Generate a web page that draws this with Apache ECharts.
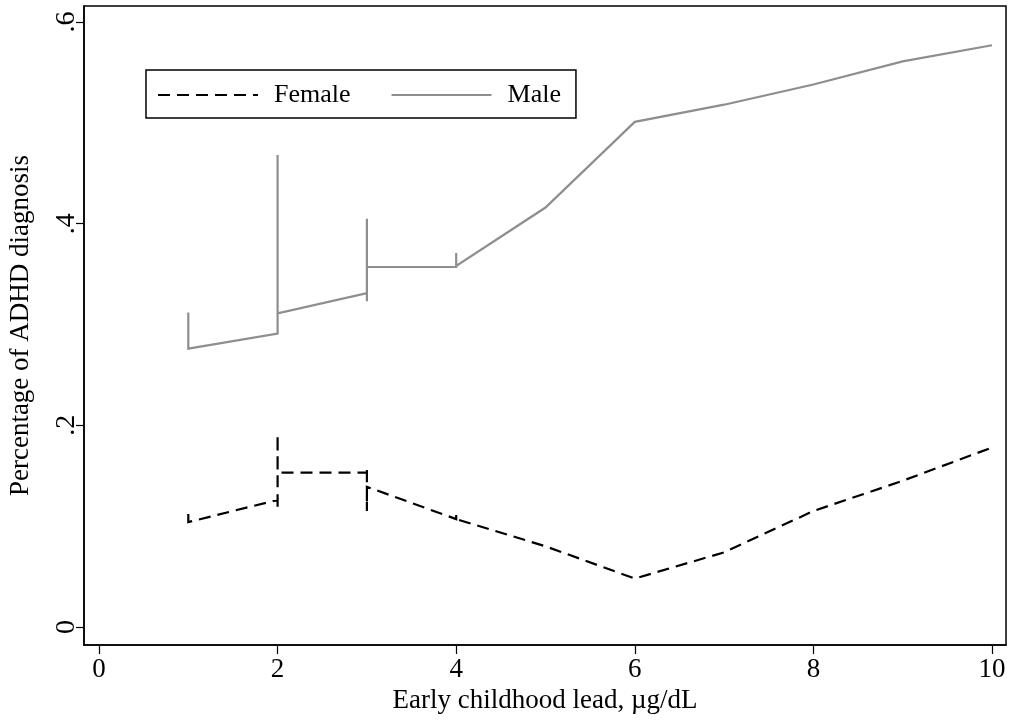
<!DOCTYPE html>
<html>
<head>
<meta charset="utf-8">
<script src="https://cdn.jsdelivr.net/npm/echarts@6/dist/echarts.min.js"></script>
<style>
  html, body { margin: 0; padding: 0; background: #fff; }
  #chart { width: 1013px; height: 721px; }
</style>
</head>
<body>
<div id="chart"></div>
<script>
// Predicted share of ADHD diagnosis by early childhood blood lead, by sex.
// Repeated lead values trace the vertical jumps at the low end of the scale.
const leadFemale = [1, 1, 2, 2, 2, 2, 3, 3, 3, 3, 4, 4, 4, 5, 6, 7, 8, 9, 10];
const pctFemale  = [0.112, 0.104, 0.126, 0.116, 0.191, 0.153, 0.153, 0.159, 0.115, 0.139,
                    0.107, 0.111, 0.107, 0.080, 0.048, 0.074, 0.115, 0.145, 0.178];

const leadMale = [1, 1, 2, 2, 2, 3, 3, 3, 3, 4, 4, 4, 5, 6, 7, 8, 9, 10];
const pctMale  = [0.312, 0.276, 0.291, 0.468, 0.311, 0.331, 0.323, 0.405, 0.357,
                  0.357, 0.371, 0.358, 0.416, 0.501, 0.518, 0.538, 0.561, 0.577];

const xTicks = [0, 2, 4, 6, 8, 10];
const yTicks = [0, 0.2, 0.4, 0.6];
const yTickLabels = ['0', '.2', '.4', '.6'];

const seriesNames = ['Female', 'Male'];

const pair = (xs, ys) => xs.map((x, i) => [x, ys[i]]);
const FONT = '"Liberation Serif", "Times New Roman", serif';

const chart = echarts.init(document.getElementById('chart'), null, { renderer: 'canvas' });

chart.setOption({
  animation: false,
  backgroundColor: '#ffffff',
  grid: {
    left: 84, right: 7, top: 6, bottom: 76,
    outerBoundsMode: 'none',
    containLabel: false,
    show: true, borderColor: '#000', borderWidth: 1.5, backgroundColor: 'transparent'
  },
  legend: {
    left: 146, top: 70,
    orient: 'horizontal',
    data: seriesNames,
    itemWidth: 100, itemHeight: 14, itemGap: 40,
    padding: [12, 15, 10, 11],
    borderColor: '#000', borderWidth: 1.5,
    itemStyle: { opacity: 0 },
    textStyle: { fontFamily: FONT, fontSize: 26, color: '#000', padding: [0, 0, 0, 11] }
  },
  xAxis: {
    type: 'value',
    min: -0.168, max: 10.157,
    name: 'Early childhood lead, \u00b5g/dL',
    nameLocation: 'middle', nameGap: 39,
    nameTextStyle: { fontFamily: FONT, fontSize: 27, color: '#000' },
    axisLine: { show: true, onZero: false, lineStyle: { color: '#000', width: 1.5 } },
    axisTick: { show: true, length: 9, customValues: xTicks, lineStyle: { color: '#000', width: 1.2 } },
    axisLabel: {
      customValues: xTicks, margin: 11,
      fontFamily: FONT, fontSize: 27, color: '#000'
    },
    splitLine: { show: false }
  },
  yAxis: {
    type: 'value',
    min: -0.0179, max: 0.6159,
    name: 'Percentage of ADHD diagnosis',
    nameLocation: 'middle', nameGap: 50, nameRotate: 90,
    nameTextStyle: { fontFamily: FONT, fontSize: 27, color: '#000' },
    axisLine: { show: true, onZero: false, lineStyle: { color: '#000', width: 1.5 } },
    axisTick: { show: true, length: 8, customValues: yTicks, lineStyle: { color: '#000', width: 1.2 } },
    axisLabel: {
      customValues: yTicks, rotate: 90, margin: 3,
      fontFamily: FONT, fontSize: 28, color: '#000',
      formatter: v => {
        const i = yTicks.findIndex(t => Math.abs(t - v) < 1e-9);
        return i >= 0 ? yTickLabels[i] : '';
      }
    },
    splitLine: { show: false }
  },
  series: [
    {
      name: seriesNames[0],
      type: 'line',
      data: pair(leadFemale, pctFemale),
      symbol: 'none',
      lineStyle: { color: '#000', width: 2.2, type: [12, 7], cap: 'butt', join: 'miter' },
      itemStyle: { color: '#000' },
      silent: true
    },
    {
      name: seriesNames[1],
      type: 'line',
      data: pair(leadMale, pctMale),
      symbol: 'none',
      lineStyle: { color: '#8e8e8e', width: 2.2, type: 'solid', join: 'miter' },
      itemStyle: { color: '#8e8e8e' },
      silent: true
    }
  ]
});
</script>
</body>
</html>
